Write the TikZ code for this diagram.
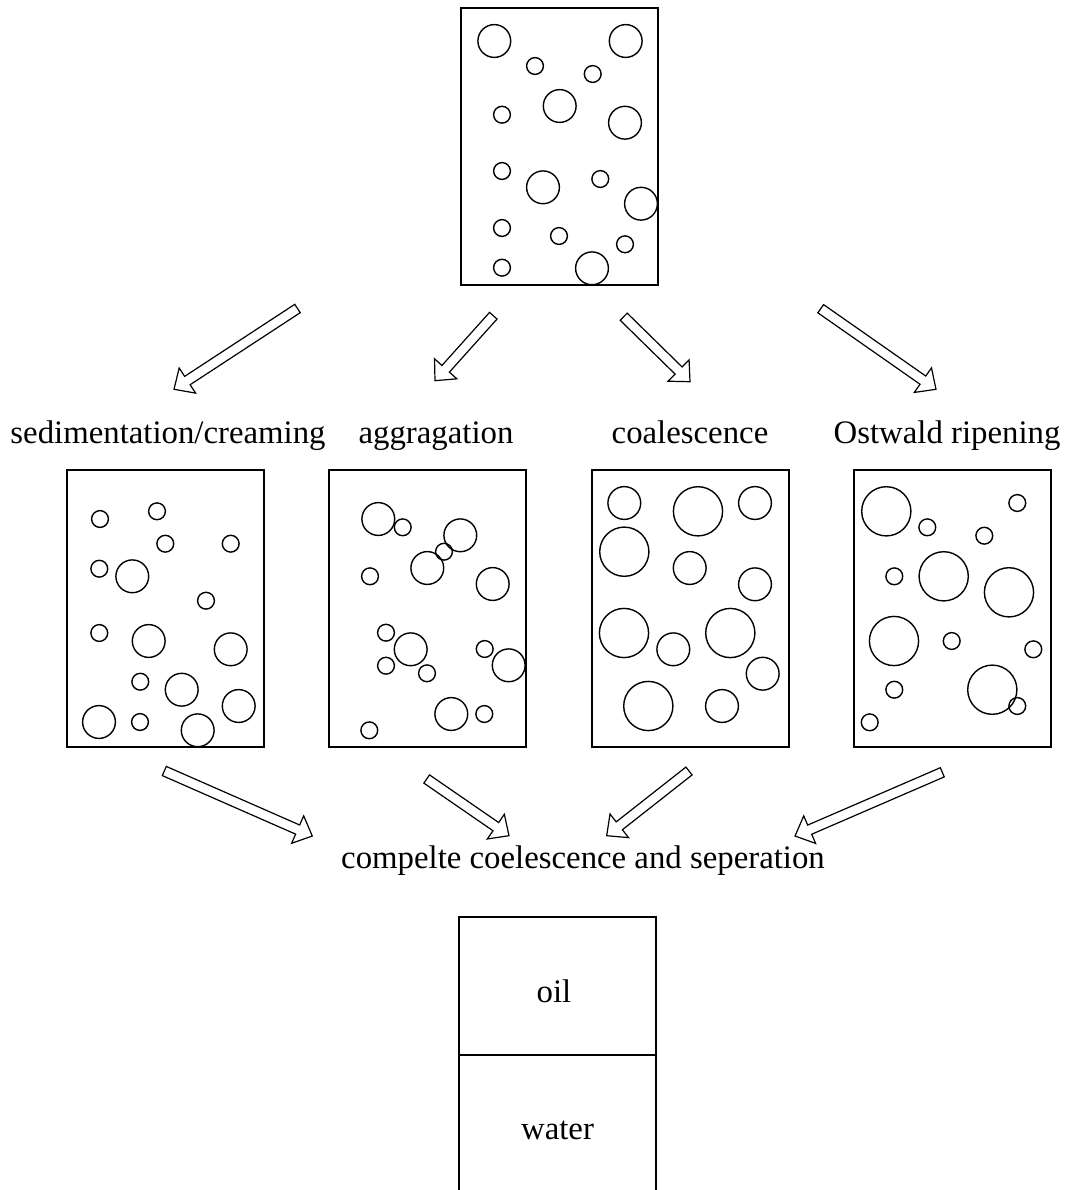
\documentclass[tikz,border=0pt]{standalone}
\usepackage{fontspec}
\setmainfont{Liberation Serif}
\usetikzlibrary{calc}

% hollow block arrow from #1 to #2
\newcommand{\hollowarrow}[2]{%
  \draw[arrowline] let \p1=($(#2)!8pt!(#1)$) in
    ($(#1)!2.5pt!90:(#2)$) -- ($(\p1)!2.5pt!90:(#2)$) -- ($(\p1)!7.5pt!90:(#2)$) -- (#2)
    -- ($(\p1)!7.5pt!-90:(#2)$) -- ($(\p1)!2.5pt!-90:(#2)$) -- ($(#1)!2.5pt!-90:(#2)$) -- cycle;}

\begin{document}
\begin{tikzpicture}[x=0.5pt, y=-0.5pt,
  every node/.style={font=\fontsize{16.4pt}{19pt}\selectfont},
  tank/.style={draw, line width=0.6pt, minimum width=98.5pt, minimum height=138.5pt, inner sep=0pt, outer sep=0pt},
  drop/.style={line width=0.7pt},
  arrowline/.style={line width=0.6pt, line join=miter}]
\useasboundingbox (0,0) rectangle (1073,1190);

% initial emulsion
\node[tank] (init) at (559.5,146.5) {};
\foreach \x/\y/\rad in {494.3/41/8.2, 625.7/41/8.2, 535/66/4.2, 592.7/74/4.2, 559.7/106/8.2,
    502/114.7/4.2, 625/122.7/8.2, 502/171/4.2, 543/187.3/8.2, 600.3/179/4.2, 641/203.7/8.2,
    502/228/4.2, 559/236/4.2, 625/244.3/4.2, 502/267.7/4.2, 592/268.3/8.2}
  \draw[drop] (\x,\y) circle[radius=\rad pt];

% the four processes
\node[anchor=base] (sedlbl) at (168,443) {sedimentation/creaming};
\node[anchor=base] (agglbl) at (436,443) {aggragation};
\node[anchor=base] (coallbl) at (690,443) {coalescence};
\node[anchor=base] (ostlbl) at (947,443) {Ostwald ripening};

\node[tank] (sed) at (165.5,608.5) {};
\node[tank] (agg) at (427.5,608.5) {};
\node[tank] (coal) at (690.5,608.5) {};
\node[tank] (ost) at (952.5,608.5) {};

\foreach \x/\y/\rad in {100/519/4.2, 157/511.3/4.2, 165.3/543.7/4.2, 230.7/543.7/4.2, 99.3/568.7/4.2,
    132.3/576.3/8.2, 206/600.7/4.2, 99.3/633/4.2, 148.7/641/8.2, 230.7/649.3/8.2, 140.3/681.7/4.2,
    181.7/689.7/8.2, 238.7/706/8.2, 99/722/8.2, 140/722/4.2, 197.7/730.3/8.2}
  \draw[drop] (\x,\y) circle[radius=\rad pt];

\foreach \x/\y/\rad in {378.3/519/8.2, 402.7/527.3/4.2, 460.3/535.3/8.2, 444/551.7/4.2, 427.3/568/8.2,
    370/576.3/4.2, 492.7/584/8.2, 386/632.7/4.2, 410.7/649.3/8.2, 484.7/649/4.2, 508.7/665.3/8.2,
    386/665.7/4.2, 427/673.3/4.2, 451.3/714/8.2, 484.3/714/4.2, 369.3/730.3/4.2}
  \draw[drop] (\x,\y) circle[radius=\rad pt];

\foreach \x/\y/\rad in {624.3/503/8.2, 698/511.3/12.3, 755/503/8.2, 624.3/551.7/12.3, 689.7/568/8.2,
    755/584.3/8.2, 624/633/12.3, 673.3/649.3/8.2, 730.3/633/12.3, 762.7/673.7/8.2,
    648.3/706/12.3, 722/706/8.2}
  \draw[drop] (\x,\y) circle[radius=\rad pt];

\foreach \x/\y/\rad in {886.3/511.3/12.3, 927.3/527.3/4.2, 1017.3/503/4.2, 984.3/535.7/4.2,
    894.3/576.3/4.2, 943.7/576.3/12.3, 1009/592.3/12.3, 894/641/12.3, 951.7/641/4.2,
    1033.3/649.3/4.2, 894.3/689.7/4.2, 992.3/689.7/12.3, 1017.3/706/4.2, 869.7/722.3/4.2}
  \draw[drop] (\x,\y) circle[radius=\rad pt];

% final state
\node[anchor=base] (finlbl) at (583,868) {compelte coelescence and seperation};
\node[draw, line width=0.6pt, minimum width=98.5pt, minimum height=69pt, inner sep=0pt, outer sep=0pt] (oilbox) at (557.5,986) {};
\coordinate (wl) at (459,1190);
\coordinate (wr) at (656,1190);
\draw[line width=0.6pt] (oilbox.south west) -- (wl) (oilbox.south east) -- (wr);
\node[anchor=base] (oil) at (554,1002) {oil};
\node[anchor=base] (water) at (557.5,1139.5) {water};

% arrows
\coordinate (a1) at (297.5,308.5); \coordinate (b1) at (174,389.3);
\coordinate (a2) at (493.3,315.7); \coordinate (b2) at (435,380.7);
\coordinate (a3) at (623.7,316.7); \coordinate (b3) at (690,381.7);
\coordinate (a4) at (820.7,308.7); \coordinate (b4) at (936,389.3);
\coordinate (c1) at (164.3,771);   \coordinate (d1) at (312.3,836);
\coordinate (c2) at (426.7,779);   \coordinate (d2) at (509,835.7);
\coordinate (c3) at (689,771);     \coordinate (d3) at (606.7,835.7);
\coordinate (c4) at (942.3,772.3); \coordinate (d4) at (795,836);
\hollowarrow{a1}{b1}
\hollowarrow{a2}{b2}
\hollowarrow{a3}{b3}
\hollowarrow{a4}{b4}
\hollowarrow{c1}{d1}
\hollowarrow{c2}{d2}
\hollowarrow{c3}{d3}
\hollowarrow{c4}{d4}
\end{tikzpicture}
\end{document}
